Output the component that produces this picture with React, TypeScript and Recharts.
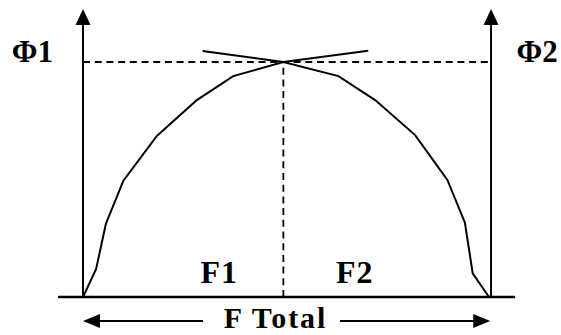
import React from 'react';
import { ComposedChart, Line, XAxis, YAxis, ReferenceLine, ReferenceDot } from 'recharts';

// F position (0 = left axis, 100 = right axis) and Φ level (0 = base, 100 = peak)
const curveF = [0, 3.2, 5.6, 9.9, 18.1, 27.9, 36.8, 49.1, 62.6, 71.6, 81.4, 89.3, 93.6, 95.5, 99.5];
const curvePhi = [0, 11.8, 31.1, 49.5, 68.5, 83.8, 94.0, 100, 94.0, 83.8, 68.9, 49.8, 31.6, 10.1, 0];
const crossF = [29.3, 49.1, 69.9];
const crossPhi = [104.7, 100, 104.8];
const peakF = 49.1;
const peakPhi = 100;
const axisTop = 116;
const axisTip = 122.6;
const baseFrom = -6.1;
const baseTo = 105.9;
const totalLevel = -10.2;
const totalLeft = [0, 29.4];
const totalRight = [63, 99.8];
const labels = ['Φ1', 'Φ2', 'F1', 'F2', 'F Total'];
const labelF = [-12.4, 111.3, 33.4, 66.6, 47.2];
const labelPhi = [104.7, 104.7, 10.6, 10.6, -8.6];

const curveData = curveF.map((f, i) => ({ f, phi: curvePhi[i] }));
const crossData = crossF.map((f, i) => ({ f, phi: crossPhi[i] }));

const upArrow = (p: any) => (
  <polygon points={`${p.cx},${p.cy} ${p.cx - 7.5},${p.cy + 16} ${p.cx + 7.5},${p.cy + 16}`} fill="#000" />
);
const leftArrow = (p: any) => (
  <polygon points={`${p.cx},${p.cy} ${p.cx + 17},${p.cy - 7} ${p.cx + 17},${p.cy + 7}`} fill="#000" />
);
const rightArrow = (p: any) => (
  <polygon points={`${p.cx},${p.cy} ${p.cx - 17},${p.cy - 7} ${p.cx - 17},${p.cy + 7}`} fill="#000" />
);
const textShape = (value: string, size: number, spacing: number) => (p: any) => (
  <text
    x={p.cx}
    y={p.cy}
    dy="0.35em"
    textAnchor="middle"
    fontFamily="'Liberation Serif', 'Times New Roman', serif"
    fontWeight="bold"
    fontSize={size}
    letterSpacing={spacing}
    fill="#000"
  >
    {value}
  </text>
);

const sizes = [31, 31, 32, 32, 30];
const spacings = [0, 0, 1, 1, 2];

export default function App() {
  return (
    <div style={{ position: 'absolute', left: 0, top: 0, width: 561, height: 335, background: '#fff' }}>
      <ComposedChart width={561} height={335} margin={{ top: 0.9, right: 0.6, bottom: 0.4, left: 1.4 }}>
        <XAxis type="number" dataKey="f" domain={[-20, 117]} allowDataOverflow hide />
        <YAxis type="number" dataKey="phi" domain={[-16, 126]} allowDataOverflow hide />
        {/* dashed guides */}
        <ReferenceLine segment={[{ x: 0, y: peakPhi }, { x: 100, y: peakPhi }]} stroke="#000" strokeWidth={1.8} strokeDasharray="7 4.7" />
        <ReferenceLine segment={[{ x: peakF, y: 0 }, { x: peakF, y: peakPhi }]} stroke="#000" strokeWidth={1.8} strokeDasharray="7 4.7" />
        {/* axes */}
        <ReferenceLine segment={[{ x: 0, y: 0 }, { x: 0, y: axisTop }]} stroke="#000" strokeWidth={2} />
        <ReferenceLine segment={[{ x: 100, y: 0 }, { x: 100, y: axisTop }]} stroke="#000" strokeWidth={2} />
        <ReferenceLine segment={[{ x: baseFrom, y: 0 }, { x: baseTo, y: 0 }]} stroke="#000" strokeWidth={2.5} />
        <ReferenceDot x={0} y={axisTip} r={0} shape={upArrow} />
        <ReferenceDot x={100} y={axisTip} r={0} shape={upArrow} />
        {/* F Total arrows */}
        <ReferenceLine segment={[{ x: totalLeft[0] + 3, y: totalLevel }, { x: totalLeft[1], y: totalLevel }]} stroke="#000" strokeWidth={2} />
        <ReferenceLine segment={[{ x: totalRight[0], y: totalLevel }, { x: totalRight[1] - 3, y: totalLevel }]} stroke="#000" strokeWidth={2} />
        <ReferenceDot x={totalLeft[0]} y={totalLevel} r={0} shape={leftArrow} />
        <ReferenceDot x={totalRight[1]} y={totalLevel} r={0} shape={rightArrow} />
        {/* curves */}
        <Line data={curveData} dataKey="phi" type="linear" stroke="#000" strokeWidth={2} dot={false} activeDot={false} isAnimationActive={false} />
        <Line data={crossData} dataKey="phi" type="linear" stroke="#000" strokeWidth={2} dot={false} activeDot={false} isAnimationActive={false} />
        {/* labels */}
        {labels.map((t, i) => (
          <ReferenceDot key={t} x={labelF[i]} y={labelPhi[i]} r={0} shape={textShape(t, sizes[i], spacings[i])} />
        ))}
      </ComposedChart>
    </div>
  );
}
